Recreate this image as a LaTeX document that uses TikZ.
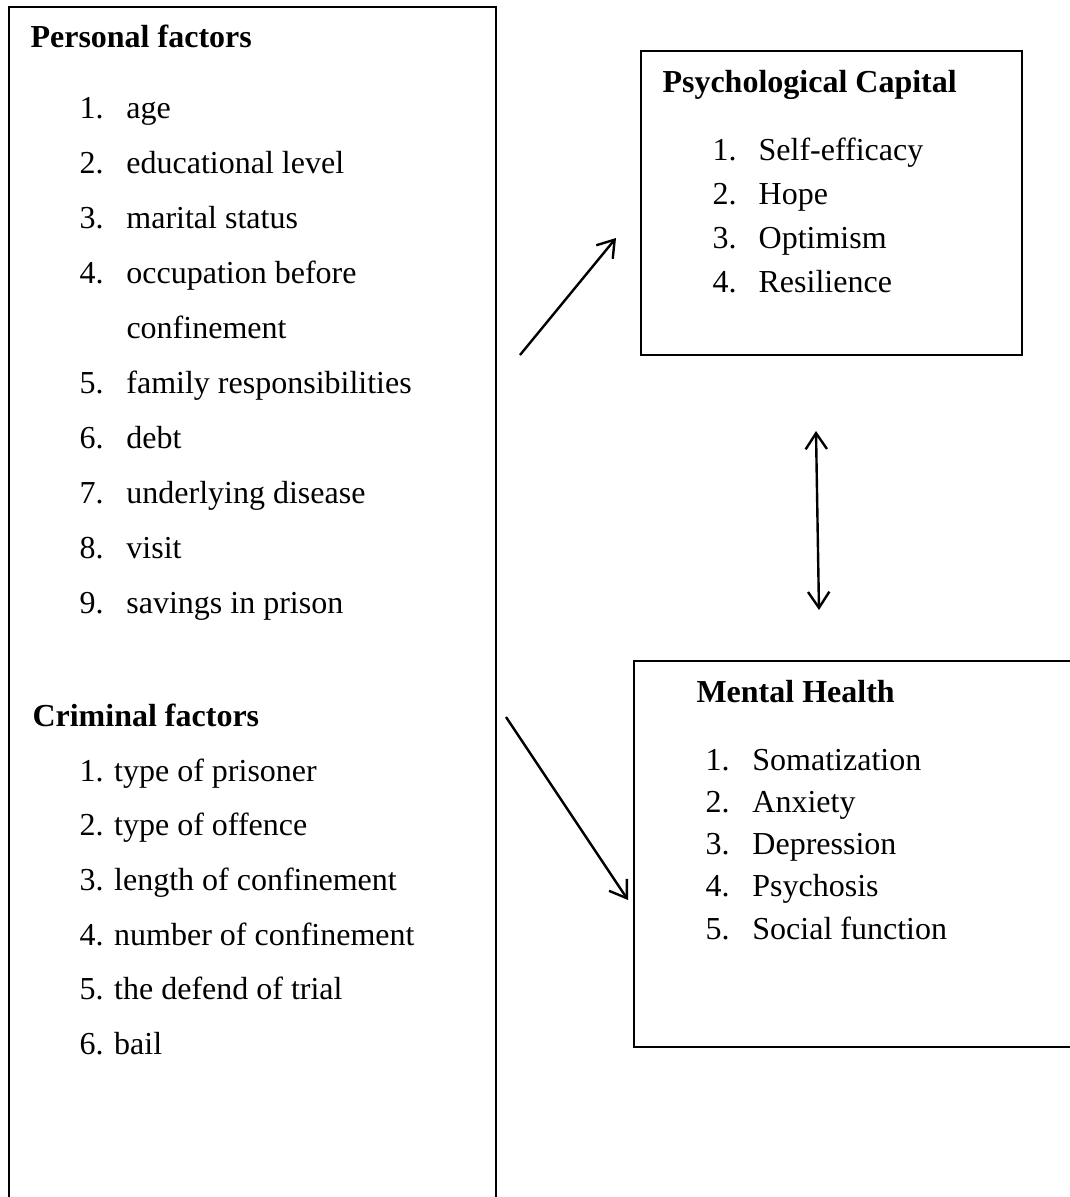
\documentclass[tikz,border=0pt]{standalone}
\usepackage{fontspec}
\setmainfont{Liberation Serif}
\usetikzlibrary{arrows.meta,fit}
\begin{document}
\begin{tikzpicture}[x=0.375pt,y=-0.375pt,
  box/.style={draw, line width=0.9pt, inner sep=0pt},
  txt/.style={anchor=base west, inner sep=0pt, font=\fontsize{12}{14}\selectfont},
  ttl/.style={anchor=base west, inner sep=0pt, font=\fontsize{12}{14}\selectfont\bfseries},
  arr/.style={line width=0.9pt, -{Straight Barb[length=6pt,width=8pt]}},
  darr/.style={line width=0.9pt, {Straight Barb[length=6pt,width=8pt]}-{Straight Barb[length=6pt,width=8pt]}},
]
\useasboundingbox (0,0) rectangle (1070,1197);
\clip (0,0) rectangle (1070,1197);
\fill[white] (0,0) rectangle (1070,1197);
% boxes
\node[box, fit={(9,7) (496,1240)}] (personal) {};
\node[box, fit={(641,51) (1022,355)}] (psycap) {};
\node[box, fit={(634,661) (1100,1047)}] (mental) {};
% personal factors
\node[ttl] (pt) at (30,47) {Personal factors};
\foreach \y/\t [count=\i] in {118/age,173/educational level,228/marital status,283/occupation before,393/family responsibilities,448/debt,503/underlying disease,558/visit,613/savings in prison}{
  \pgfmathtruncatemacro{\n}{\i<5 ? \i : \i}
  \node[txt] (pi\i) at (79,\y) {\makebox[17.6pt][l]{\n.}\t};
}
\node[txt] (pi4b) at (126,338) {confinement};
% criminal factors
\node[ttl] (ct) at (32,726) {Criminal factors};
\foreach \y/\t [count=\i] in {781/type of prisoner,835/type of offence,890/length of confinement,945/number of confinement,999/the defend of trial,1054/bail}{
  \node[txt] (ci\i) at (79,\y) {\i. \t};
}
% psychological capital
\node[ttl] (pct) at (662,92) {Psychological Capital};
\foreach \y/\t [count=\i] in {160/Self-efficacy,204/Hope,248/Optimism,292/Resilience}{
  \node[txt] (pc\i) at (712,\y) {\makebox[17.3pt][l]{\i.}\t};
}
% mental health
\node[ttl] (mht) at (696,702) {Mental Health};
\foreach \y/\t [count=\i] in {770/Somatization,812/Anxiety,854/Depression,896/Psychosis,939/Social function}{
  \node[txt] (mh\i) at (705,\y) {\makebox[17.6pt][l]{\i.}\t};
}
% connectors
\coordinate (a1s) at (520,355);
\coordinate (a1e) at (616,238);
\coordinate (a2s) at (506,717);
\coordinate (a2e) at (628,900);
\coordinate (a3s) at (816,431);
\coordinate (a3e) at (819,610);
\draw[arr] (a1s) -- (a1e);
\draw[arr] (a2s) -- (a2e);
\draw[darr] (a3s) -- (a3e);
\end{tikzpicture}
\end{document}
